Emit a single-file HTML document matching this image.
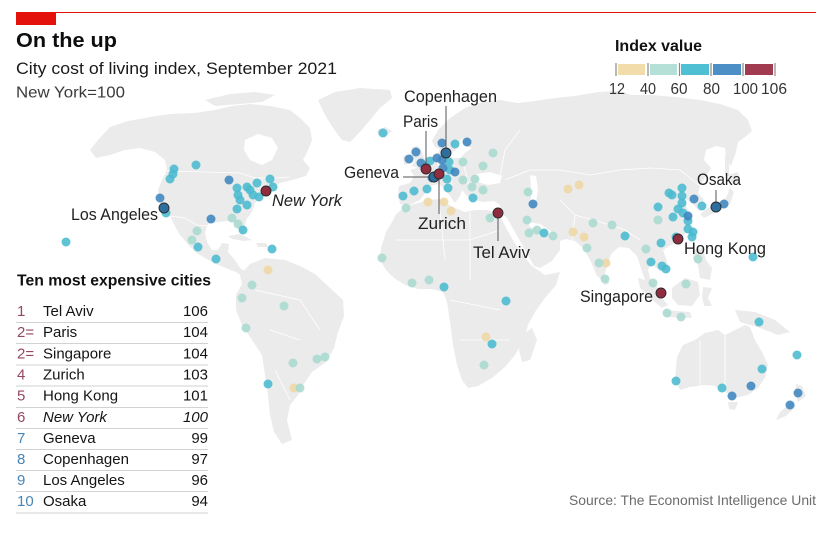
<!DOCTYPE html>
<html><head><meta charset="utf-8"><style>
html,body{margin:0;padding:0;background:#fff;}
svg{display:block;}
text{font-family:"Liberation Sans",sans-serif;}
</style></head><body>
<svg width="834" height="537" viewBox="0 0 834 537" xmlns="http://www.w3.org/2000/svg">
<rect width="834" height="537" fill="#fff"/>
<!-- header -->
<line x1="16" y1="12.5" x2="816" y2="12.5" stroke="#e3120b" stroke-width="1"/>
<rect x="16" y="12.5" width="40" height="12.5" fill="#e3120b"/>
<text x="16" y="47" font-size="20" font-weight="bold" fill="#0d0d0d" textLength="101" lengthAdjust="spacingAndGlyphs">On the up</text>
<text x="16" y="74" font-size="16.5" fill="#1a1a1a" textLength="321" lengthAdjust="spacingAndGlyphs">City cost of living index, September 2021</text>
<text x="16" y="97.5" font-size="16" fill="#3a3a3a" textLength="109" lengthAdjust="spacingAndGlyphs">New York=100</text>

<!-- map land -->
<g fill="#ebebeb" stroke="none">
<path d="M98,140 L110,127 L128,121 L150,117 L170,114 L195,113 L215,110 L232,106 L250,104 L270,106 L290,110 L300,118 L310,128 L312,140 L308,150 L303,160 L310,168 L306,176 L292,180 L280,183 L270,188 L262,195 L255,203 L252,212 L246,220 L244,232 L240,232 L235,222 L228,221 L218,222 L208,224 L205,232 L207,242 L212,250 L218,250 L222,243 L229,244 L228,252 L235,260 L240,268 L246,272 L242,276 L236,272 L226,268 L216,264 L205,258 L195,252 L186,242 L180,235 L176,228 L173,222 L170,216 L164,210 L159,200 L158,190 L162,180 L167,170 L165,160 L155,152 L140,148 L125,150 L110,155 L96,158 L90,150 Z"/>
<path d="M205,100 L230,94 L255,92 L275,95 L262,102 L240,104 L215,106 Z"/>
<path d="M318,100 L335,92 L360,88 L390,90 L392,98 L380,108 L370,120 L360,132 L350,142 L342,140 L333,128 L325,115 Z"/>
<path d="M377,130 L385,127 L392,131 L386,136 L378,135 Z"/>
<path d="M228,236 L240,234 L252,240 L244,241 L232,239 Z"/>
<path d="M256,243 L266,243 L268,247 L258,247 Z"/>
<path d="M240,275 L250,264 L265,258 L285,260 L300,266 L315,274 L330,288 L343,300 L344,316 L338,332 L334,348 L326,362 L312,372 L303,385 L298,395 L290,405 L287,420 L292,440 L282,444 L274,432 L270,415 L268,395 L265,375 L262,355 L252,340 L242,325 L236,310 L236,295 L242,284 Z"/>
<path d="M386,232 L392,222 L396,214 L405,207 L415,204 L428,200 L440,199 L448,204 L455,208 L465,212 L475,210 L488,210 L498,214 L502,220 L510,235 L520,252 L532,266 L545,275 L560,272 L556,285 L545,298 L535,312 L528,325 L524,340 L515,355 L505,367 L492,378 L478,386 L468,388 L462,380 L457,365 L453,345 L450,322 L447,302 L443,292 L432,289 L418,289 L405,285 L394,278 L386,270 L380,260 L381,248 Z"/>
<path d="M522,335 L532,328 L537,340 L530,360 L522,362 L519,350 Z"/>
<path d="M400,204 L398,195 L399,186 L410,183 L414,176 L410,170 L420,167 L428,160 L436,156 L440,149 L435,147 L432,141 L438,130 L450,118 L465,108 L482,102 L500,100 L518,103 L535,101 L555,98 L575,96 L598,92 L618,91 L632,95 L652,95 L675,97 L700,100 L720,104 L738,110 L748,120 L752,131 L745,137 L738,142 L736,152 L731,166 L726,160 L725,148 L716,146 L706,150 L704,160 L711,168 L706,176 L700,186 L698,193 L703,199 L705,207 L699,211 L693,204 L687,200 L683,199 L686,206 L690,213 L691,222 L687,231 L681,240 L671,245 L663,250 L666,258 L668,266 L663,273 L656,268 L651,263 L648,270 L651,281 L662,292 L656,295 L646,283 L641,268 L637,256 L629,248 L619,247 L611,254 L607,267 L603,280 L597,276 L591,262 L584,249 L575,241 L566,239 L560,241 L560,250 L552,261 L540,268 L534,266 L525,250 L516,234 L507,218 L501,212 L500,205 L494,201 L483,202 L476,200 L472,203 L467,196 L462,190 L460,196 L455,203 L450,196 L444,188 L438,184 L430,186 L426,192 L420,200 L410,205 Z"/>
<path d="M412,147 L418,146 L422,152 L425,160 L426,166 L418,168 L412,166 L415,160 L410,153 Z"/>
<path d="M403,156 L410,155 L411,163 L404,165 Z"/>
<path d="M603,276 L608,276 L609,284 L604,285 Z"/>
<path d="M725,156 L729,157 L729,176 L725,176 Z"/>
<path d="M728,175 L738,172 L740,182 L732,184 Z"/>
<path d="M700,214 L708,208 L718,203 L726,198 L730,188 L734,192 L730,204 L722,210 L712,214 L704,218 Z"/>
<path d="M690,228 L694,228 L693,238 L689,236 Z"/>
<path d="M694,250 L702,248 L706,260 L712,268 L710,280 L700,278 L698,265 L693,258 Z"/>
<path d="M672,288 L685,278 L698,282 L700,295 L692,306 L678,305 L672,298 Z"/>
<path d="M638,278 L645,280 L658,293 L668,305 L662,308 L650,298 L640,288 Z"/>
<path d="M664,310 L690,312 L692,318 L666,317 Z"/>
<path d="M703,287 L712,288 L708,298 L712,306 L704,306 L702,296 Z"/>
<path d="M735,310 L755,312 L775,320 L790,332 L778,335 L760,328 L740,322 Z"/>
<path d="M677,357 L683,345 L695,340 L705,333 L718,330 L725,335 L735,330 L745,325 L750,327 L755,340 L762,352 L768,365 L765,378 L758,388 L748,395 L735,398 L725,392 L715,386 L705,385 L690,387 L680,390 L675,380 L676,368 Z"/>
<path d="M728,402 L738,402 L735,410 L729,409 Z"/>
<path d="M796,384 L802,386 L806,396 L798,402 L795,394 Z"/>
<path d="M792,402 L796,406 L786,416 L776,420 L780,412 Z"/>
</g>
<g fill="#fff">
<path d="M245,140 L258,134 L272,138 L278,148 L272,160 L262,165 L250,160 L244,150 Z"/>
<path d="M476,174 L490,172 L502,176 L500,183 L488,185 L478,182 Z"/>
<path d="M530,175 L536,176 L538,190 L536,202 L531,200 L531,188 Z"/>
<path d="M528,222 L540,224 L552,232 L556,238 L550,236 L545,231 L537,229 L530,227 Z"/>
<path d="M457,146 L462,138 L465,146 L472,148 L466,152 L460,158 L452,158 L449,152 L455,151 Z"/>
</g>
<g fill="none" stroke="#fff" stroke-width="0.8">
<path d="M167,171 L240,173 L255,178 L275,178 L290,177"/>
<path d="M170,216 L185,218 L197,225 L208,226"/>
<path d="M436,156 L440,170 L432,184"/>
<path d="M450,160 L452,185"/>
<path d="M462,158 L470,190"/>
<path d="M500,176 L505,150 L520,130"/>
<path d="M505,180 L530,170 L560,170 L590,175 L620,170 L650,168 L680,170 L700,186"/>
<path d="M575,215 L600,222 L625,230 L640,240"/>
<path d="M560,200 L575,215 L572,240"/>
<path d="M395,240 L470,240 L500,230"/>
<path d="M440,210 L445,260"/>
<path d="M470,212 L470,280"/>
<path d="M450,300 L500,310"/>
<path d="M460,340 L510,340"/>
<path d="M255,290 L300,300 L320,330"/>
<path d="M270,330 L300,340"/>
<path d="M275,370 L290,400"/>
<path d="M700,340 L700,385"/>
<path d="M725,335 L725,390"/>
</g>

<g stroke="none" fill-opacity="0.88">
<g fill="#eed7a3">
<circle cx="268" cy="270" r="4.5"/><circle cx="294" cy="388" r="4.5"/><circle cx="486" cy="337" r="4.5"/>
<circle cx="428" cy="202" r="4.5"/><circle cx="444" cy="202" r="4.5"/><circle cx="451" cy="211" r="4.5"/>
<circle cx="568" cy="189" r="4.5"/><circle cx="579" cy="185" r="4.5"/><circle cx="573" cy="232" r="4.5"/>
<circle cx="584" cy="237" r="4.5"/><circle cx="606" cy="263" r="4.5"/>
</g>
<g fill="#a7d9cf">
<circle cx="232" cy="218" r="4.5"/><circle cx="238" cy="224" r="4.5"/><circle cx="197" cy="231" r="4.5"/><circle cx="192" cy="240" r="4.5"/>
<circle cx="252" cy="285" r="4.5"/><circle cx="242" cy="298" r="4.5"/><circle cx="284" cy="306" r="4.5"/><circle cx="246" cy="328" r="4.5"/>
<circle cx="317" cy="359" r="4.5"/><circle cx="325" cy="357" r="4.5"/><circle cx="293" cy="363" r="4.5"/><circle cx="300" cy="388" r="4.5"/>
<circle cx="382" cy="258" r="4.5"/><circle cx="412" cy="283" r="4.5"/><circle cx="429" cy="280" r="4.5"/><circle cx="484" cy="365" r="4.5"/>
<circle cx="493" cy="153" r="4.5"/><circle cx="463" cy="162" r="4.5"/><circle cx="483" cy="166" r="4.5"/><circle cx="463" cy="180" r="4.5"/>
<circle cx="475" cy="179" r="4.5"/><circle cx="472" cy="187" r="4.5"/><circle cx="483" cy="190" r="4.5"/><circle cx="406" cy="208" r="4.5"/>
<circle cx="490" cy="218" r="4.5"/><circle cx="528" cy="192" r="4.5"/><circle cx="527" cy="220" r="4.5"/><circle cx="529" cy="233" r="4.5"/>
<circle cx="537" cy="230" r="4.5"/><circle cx="553" cy="236" r="4.5"/>
<circle cx="593" cy="223" r="4.5"/><circle cx="612" cy="225" r="4.5"/><circle cx="587" cy="248" r="4.5"/><circle cx="599" cy="263" r="4.5"/>
<circle cx="605" cy="279" r="4.5"/><circle cx="646" cy="249" r="4.5"/><circle cx="653" cy="283" r="4.5"/><circle cx="667" cy="313" r="4.5"/>
<circle cx="681" cy="317" r="4.5"/><circle cx="686" cy="284" r="4.5"/><circle cx="698" cy="259" r="4.5"/><circle cx="658" cy="220" r="4.5"/>
</g>
<g fill="#49bacf">
<circle cx="383" cy="133" r="4.5"/><circle cx="196" cy="165" r="4.5"/><circle cx="174" cy="169" r="4.5"/><circle cx="173" cy="174" r="4.5"/>
<circle cx="170" cy="179" r="4.5"/><circle cx="166" cy="213" r="4.5"/><circle cx="237" cy="188" r="4.5"/><circle cx="238" cy="195" r="4.5"/>
<circle cx="240" cy="200" r="4.5"/><circle cx="247" cy="187" r="4.5"/><circle cx="250" cy="190" r="4.5"/><circle cx="257" cy="183" r="4.5"/>
<circle cx="253" cy="195" r="4.5"/><circle cx="259" cy="197" r="4.5"/><circle cx="270" cy="179" r="4.5"/><circle cx="273" cy="187" r="4.5"/>
<circle cx="237" cy="209" r="4.5"/><circle cx="247" cy="205" r="4.5"/><circle cx="243" cy="230" r="4.5"/><circle cx="198" cy="247" r="4.5"/>
<circle cx="216" cy="259" r="4.5"/><circle cx="272" cy="249" r="4.5"/><circle cx="66" cy="242" r="4.5"/><circle cx="268" cy="384" r="4.5"/>
<circle cx="444" cy="287" r="4.5"/><circle cx="506" cy="301" r="4.5"/><circle cx="492" cy="344" r="4.5"/>
<circle cx="455" cy="144" r="4.5"/><circle cx="430" cy="161" r="4.5"/><circle cx="449" cy="162" r="4.5"/><circle cx="450" cy="170" r="4.5"/>
<circle cx="447" cy="179" r="4.5"/><circle cx="414" cy="191" r="4.5"/><circle cx="427" cy="189" r="4.5"/><circle cx="403" cy="196" r="4.5"/>
<circle cx="448" cy="188" r="4.5"/><circle cx="473" cy="198" r="4.5"/><circle cx="544" cy="233" r="4.5"/>
<circle cx="625" cy="236" r="4.5"/><circle cx="651" cy="262" r="4.5"/><circle cx="661" cy="243" r="4.5"/><circle cx="662" cy="266" r="4.5"/>
<circle cx="666" cy="269" r="4.5"/><circle cx="753" cy="257" r="4.5"/><circle cx="676" cy="237" r="4.5"/><circle cx="669" cy="193" r="4.5"/>
<circle cx="672" cy="195" r="4.5"/><circle cx="682" cy="188" r="4.5"/><circle cx="682" cy="196" r="4.5"/><circle cx="682" cy="203" r="4.5"/>
<circle cx="678" cy="209" r="4.5"/><circle cx="683" cy="213" r="4.5"/><circle cx="673" cy="217" r="4.5"/><circle cx="688" cy="221" r="4.5"/>
<circle cx="688" cy="229" r="4.5"/><circle cx="693" cy="232" r="4.5"/><circle cx="692" cy="237" r="4.5"/><circle cx="658" cy="207" r="4.5"/>
<circle cx="702" cy="206" r="4.5"/><circle cx="759" cy="322" r="4.5"/><circle cx="797" cy="355" r="4.5"/><circle cx="762" cy="369" r="4.5"/>
<circle cx="676" cy="381" r="4.5"/><circle cx="722" cy="388" r="4.5"/>
</g>
<g fill="#3d85be">
<circle cx="229" cy="180" r="4.5"/><circle cx="160" cy="198" r="4.5"/><circle cx="211" cy="219" r="4.5"/>
<circle cx="442" cy="143" r="4.5"/><circle cx="467" cy="142" r="4.5"/><circle cx="416" cy="152" r="4.5"/><circle cx="409" cy="159" r="4.5"/>
<circle cx="421" cy="163" r="4.5"/><circle cx="437" cy="158" r="4.5"/><circle cx="442" cy="160" r="4.5"/><circle cx="443" cy="168" r="4.5"/>
<circle cx="455" cy="172" r="4.5"/><circle cx="432" cy="178" r="4.5"/><circle cx="533" cy="204" r="4.5"/>
<circle cx="688" cy="216" r="4.5"/><circle cx="694" cy="199" r="4.5"/><circle cx="724" cy="204" r="4.5"/>
<circle cx="732" cy="396" r="4.5"/><circle cx="751" cy="386" r="4.5"/><circle cx="798" cy="393" r="4.5"/><circle cx="790" cy="405" r="4.5"/>
</g>
</g>
<g stroke="#555" stroke-width="1" fill="none">
<line x1="446" y1="106" x2="446" y2="149"/>
<line x1="426" y1="131" x2="426" y2="165"/>
<line x1="403" y1="177" x2="430" y2="177"/>
<line x1="439" y1="179" x2="439" y2="214"/>
<line x1="498" y1="218" x2="498" y2="241"/>
<line x1="716" y1="190" x2="716" y2="203"/>
</g>
<g stroke="#2a2a2a" stroke-width="0.9">
<circle cx="164" cy="208" r="5" fill="#2d6e9d"/>
<circle cx="446" cy="153" r="5" fill="#2d6e9d"/>
<circle cx="434" cy="177" r="5" fill="#2d6e9d"/>
<circle cx="716" cy="207" r="5" fill="#2d6e9d"/>
<circle cx="266" cy="191" r="5" fill="#8f2c40"/>
<circle cx="426" cy="169" r="5" fill="#8f2c40"/>
<circle cx="439" cy="174" r="5" fill="#8f2c40"/>
<circle cx="498" cy="213" r="5" fill="#8f2c40"/>
<circle cx="678" cy="239" r="5" fill="#8f2c40"/>
<circle cx="661" cy="293" r="5" fill="#8f2c40"/>
</g>

<g font-size="16.5" fill="#222">
<text x="404" y="102" textLength="93" lengthAdjust="spacingAndGlyphs">Copenhagen</text>
<text x="403" y="127" textLength="35" lengthAdjust="spacingAndGlyphs">Paris</text>
<text x="344" y="178" textLength="55" lengthAdjust="spacingAndGlyphs">Geneva</text>
<text x="418" y="229" textLength="48" lengthAdjust="spacingAndGlyphs">Zurich</text>
<text x="473" y="258" textLength="57" lengthAdjust="spacingAndGlyphs">Tel Aviv</text>
<text x="272" y="206" font-style="italic" textLength="70" lengthAdjust="spacingAndGlyphs">New York</text>
<text x="71" y="220" textLength="87" lengthAdjust="spacingAndGlyphs">Los Angeles</text>
<text x="697" y="185" textLength="44" lengthAdjust="spacingAndGlyphs">Osaka</text>
<text x="684" y="254" textLength="82" lengthAdjust="spacingAndGlyphs">Hong Kong</text>
<text x="580" y="302" textLength="73" lengthAdjust="spacingAndGlyphs">Singapore</text>
</g>

<text x="615" y="51" font-size="16" font-weight="bold" fill="#111" textLength="87" lengthAdjust="spacingAndGlyphs">Index value</text>
<rect x="618" y="64" width="27" height="11" fill="#f2dcaa"/>
<rect x="650" y="64" width="27" height="11" fill="#b4e0d7"/>
<rect x="681" y="64" width="28" height="11" fill="#4fbfd3"/>
<rect x="713" y="64" width="28" height="11" fill="#4b8fc6"/>
<rect x="745" y="64" width="28" height="11" fill="#a13b4f"/>
<g stroke="#888" stroke-width="1.2">
<line x1="616" y1="63" x2="616" y2="76"/><line x1="648" y1="63" x2="648" y2="76"/><line x1="679.5" y1="63" x2="679.5" y2="76"/>
<line x1="711" y1="63" x2="711" y2="76"/><line x1="743" y1="63" x2="743" y2="76"/><line x1="775" y1="63" x2="775" y2="76"/>
</g>
<g font-size="16" fill="#333">
<text x="609" y="94" textLength="16" lengthAdjust="spacingAndGlyphs">12</text>
<text x="640" y="94" textLength="16" lengthAdjust="spacingAndGlyphs">40</text>
<text x="670.5" y="94" textLength="17" lengthAdjust="spacingAndGlyphs">60</text>
<text x="703" y="94" textLength="17" lengthAdjust="spacingAndGlyphs">80</text>
<text x="733" y="94" textLength="25" lengthAdjust="spacingAndGlyphs">100</text>
<text x="761" y="94" textLength="26" lengthAdjust="spacingAndGlyphs">106</text>
</g>

<text x="17" y="285.5" font-size="16" font-weight="bold" fill="#111" textLength="194" lengthAdjust="spacingAndGlyphs">Ten most expensive cities</text>
<g stroke="#d2d2d2" stroke-width="1">
<line x1="16" y1="322.5" x2="208" y2="322.5"/><line x1="16" y1="343.5" x2="208" y2="343.5"/>
<line x1="16" y1="365" x2="208" y2="365"/><line x1="16" y1="386" x2="208" y2="386"/>
<line x1="16" y1="407.5" x2="208" y2="407.5"/><line x1="16" y1="428.5" x2="208" y2="428.5"/>
<line x1="16" y1="449.5" x2="208" y2="449.5"/><line x1="16" y1="470.5" x2="208" y2="470.5"/>
<line x1="16" y1="491.5" x2="208" y2="491.5"/><line x1="16" y1="513" x2="208" y2="513"/>
</g>
<g font-size="15">
<g fill="#93485e">
<text x="17" y="316">1</text>
<text x="17" y="337">2=</text>
<text x="17" y="358.5">2=</text>
<text x="17" y="379.5">4</text>
<text x="17" y="400.5">5</text>
<text x="17" y="422">6</text>
</g>
<g fill="#4885b4">
<text x="17" y="443">7</text>
<text x="17" y="464">8</text>
<text x="17" y="485">9</text>
<text x="17" y="506">10</text>
</g>
<g fill="#141414">
<text x="43" y="316">Tel Aviv</text>
<text x="43" y="337">Paris</text>
<text x="43" y="358.5">Singapore</text>
<text x="43" y="379.5">Zurich</text>
<text x="43" y="400.5">Hong Kong</text>
<text x="43" y="422" font-style="italic">New York</text>
<text x="43" y="443">Geneva</text>
<text x="43" y="464">Copenhagen</text>
<text x="43" y="485">Los Angeles</text>
<text x="43" y="506">Osaka</text>
</g>
<g fill="#141414" text-anchor="end">
<text x="208" y="316">106</text>
<text x="208" y="337">104</text>
<text x="208" y="358.5">104</text>
<text x="208" y="379.5">103</text>
<text x="208" y="400.5">101</text>
<text x="208" y="422" font-style="italic">100</text>
<text x="208" y="443">99</text>
<text x="208" y="464">97</text>
<text x="208" y="485">96</text>
<text x="208" y="506">94</text>
</g>
</g>

<text x="569" y="505" font-size="14" fill="#6b6b6b" textLength="247" lengthAdjust="spacingAndGlyphs">Source: The Economist Intelligence Unit</text>
</svg>
</body></html>
